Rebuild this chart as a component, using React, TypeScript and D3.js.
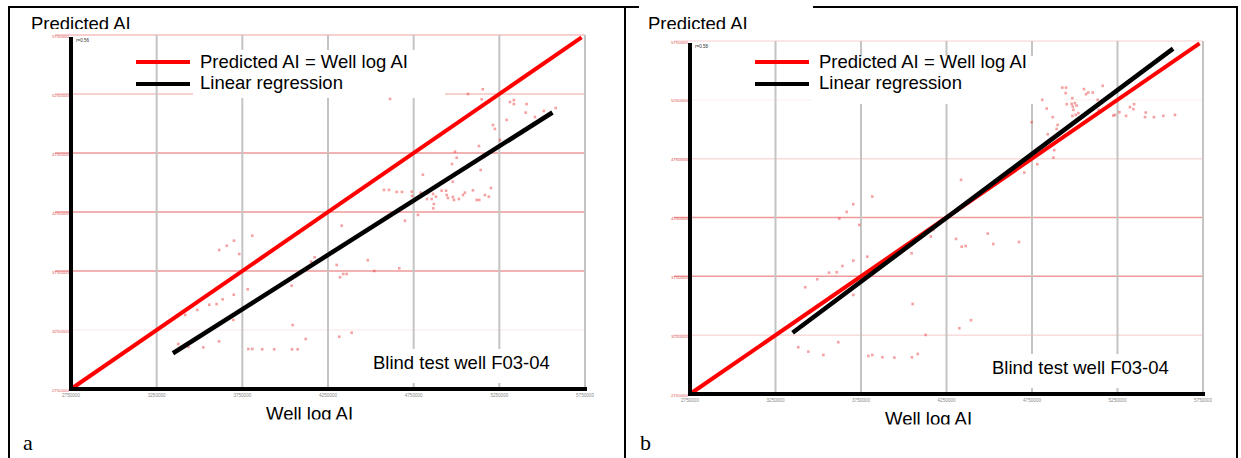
import React from 'react';
import * as d3 from 'd3';

// AI values in thousands (tick labels are printed x1000)
const AI_TICKS = [2750, 3250, 3750, 4250, 4750, 5250, 5750];
const IDENTITY = [2750, 5730];

// panel a: blind test well, first network
const WELL_A = [5153,5067,5147,4612,5312,5335,5335,5409,5404,5458,5510,5579,5293,5213,5224,5254,5131,4991,5001,4974,5141,4804,4978,4577,4606,4651,4682,4738,4740,4791,4833,4863,4913,4939,4943,4950,4855,4880,4868,4864,4979,4985,5014,5049,5038,5096,5118,5133,5166,5201,5189,4828,4699,4775,4330,3808,3701,3659,3615,3732,3781,3700,3635,3600,3557,3487,3417,3697,3376,3435,3522,3614,3785,3808,3866,3936,4040,4073,4038,4044,4120,4172,4151,4301,4482,4520,4666,4339,4359,4320,4316,4388];
const PRED_A = [5290,5250,5205,5208,5182,5199,5165,5165,5092,5055,5106,5131,5030,4987,4954,4860,4809,4761,4710,4657,4606,4566,4507,4437,4437,4420,4420,4422,4386,4414,4409,4403,4431,4431,4394,4369,4360,4380,4318,4281,4377,4352,4360,4414,4394,4434,4352,4352,4394,4453,4380,4360,4176,4225,4134,4049,4007,3964,3928,3894,3595,3549,3510,3470,3464,3420,3377,3335,3131,3108,3103,3154,3089,3089,3086,3086,3086,3086,3625,3292,3174,3866,3829,3801,3841,3750,3773,3725,3725,3697,3193,3227];
const REG_A = { x0: 3345, x1: 5560, slope: 0.921, offset: -245 };

// panel b: blind test well, second network
const WELL_B = [3816,3705,3666,3623,3740,3787,3705,3641,3608,3563,3494,3424,3705,3383,3442,3530,3617,3793,3816,3875,3945,4048,4082,4046,4052,4128,4158,4173,4306,4339,4362,4491,4524,4674,4325,4393,4335,4705,4781,4875,4880,4842,4894,4900,4871,4836,4810,4748,4927,4949,4947,5054,5066,5079,5105,5163,4986,5001,4988,4953,4982,5011,4992,5021,4986,5006,5134,5140,5225,5235,5261,5300,5323,5347,5343,5415,5411,5463,5518,5586];
const PRED_B = [4428,4363,4298,4241,4187,3917,3883,3838,3785,3781,3725,3657,3592,3147,3110,3082,3190,3073,3082,3062,3059,3062,3090,3946,3515,3252,4088,4144,4068,4002,4008,4113,4025,4042,3309,3377,4570,4632,4703,4759,4822,4958,5003,5037,5103,5176,5250,5060,5354,5354,5307,5341,5298,5312,5312,5369,5264,5222,5193,5213,5216,5201,5165,5137,5114,5122,5250,5165,5116,5122,5145,5114,5188,5213,5171,5142,5103,5103,5114,5122];
const REG_B = { x0: 3350, x1: 5575, slope: 1.085, offset: -130 };

const LEGEND = ['Predicted AI = Well log AI', 'Linear regression'];
const WELL_NAME = 'Blind test well F03-04';

const font = 'Liberation Sans, Arial, sans-serif';
const gridRed = 'rgba(226,70,70,0.55)';

type PanelProps = {
  left: number; right: number; top: number; bottom: number;
  wellLog: number[]; predicted: number[];
  reg: { x0: number; x1: number; slope: number; offset: number };
  hOpacity: number[];
  tag: string; stat: string;
  panelLeft: number;
};

function Panel(p: PanelProps) {
  const x = d3.scaleLinear().domain([AI_TICKS[0], AI_TICKS[AI_TICKS.length - 1]]).range([p.left, p.right]);
  const y = d3.scaleLinear().domain([AI_TICKS[0], AI_TICKS[AI_TICKS.length - 1]]).range([p.bottom, p.top]);
  const line = d3.line<[number, number]>().x(d => x(d[0])).y(d => y(d[1]));
  const regY = (v: number) => AI_TICKS[0] + p.reg.offset + p.reg.slope * (v - AI_TICKS[0]);
  const lgX = p.left + 65;
  const fmt = (d: number) => `${d * 1000}`;

  return (
    <g>
      {/* titles, partly cut off like the original scan */}
      <text x={p.panelLeft + 23} y={29.5} fontFamily={font} fontSize={18.5}>Predicted AI</text>
      <rect x={p.panelLeft + 15} y={29} width={140} height={5} fill="#fff" />

      {/* horizontal red grid */}
      {AI_TICKS.slice(1).map((t, i) => (
        <line key={'h' + t} x1={p.left - 16} x2={p.right} y1={y(t)} y2={y(t)}
          stroke={gridRed} strokeWidth={1.5} opacity={p.hOpacity[i]} />
      ))}
      {/* vertical grey grid */}
      {AI_TICKS.slice(1).map(t => (
        <line key={'v' + t} x1={x(t)} x2={x(t)} y1={p.top} y2={p.bottom}
          stroke="#c4c4c4" strokeWidth={2} />
      ))}

      {/* tick labels (tiny, as in the source image) */}
      {AI_TICKS.map(t => (
        <text key={'yl' + t} x={p.left - 2} y={y(t) + 2.6} textAnchor="end"
          fontFamily={font} fontSize={4.4} fill="#e06060">{fmt(t)}</text>
      ))}
      {AI_TICKS.map(t => (
        <text key={'xl' + t} x={x(t)} y={p.bottom + 8} textAnchor="middle"
          fontFamily={font} fontSize={4.6} fill="#888">{fmt(t)}</text>
      ))}
      <text x={p.left + 5} y={p.top + 7} fontFamily={font} fontSize={4.6} fill="#333">{p.stat}</text>

      {/* legend box */}
      <rect x={p.left + 122} y={p.top + 15} width={252} height={48} fill="#fff" />
      <line x1={lgX} x2={lgX + 54} y1={62} y2={62} stroke="#ff0000" strokeWidth={4} />
      <line x1={lgX} x2={lgX + 54} y1={84} y2={84} stroke="#000" strokeWidth={4} />
      <text x={lgX + 64} y={68} fontFamily={font} fontSize={18.5}>{LEGEND[0]}</text>
      <text x={lgX + 64} y={89} fontFamily={font} fontSize={18.5}>{LEGEND[1]}</text>

      {/* scatter */}
      {p.wellLog.map((v, i) => (
        <rect key={'p' + i} x={x(v) - 1.3} y={y(p.predicted[i]) - 1.3} width={2.6} height={2.6}
          fill="#e44" opacity={0.5} />
      ))}

      {/* well label */}
      <rect x={p.left + 299} y={p.bottom - 40} width={184} height={34} fill="#fff" />
      <text x={p.left + 302} y={p.bottom - 20} fontFamily={font} fontSize={18.5}>{WELL_NAME}</text>

      {/* identity and regression */}
      <path d={line([[IDENTITY[0], IDENTITY[0]], [IDENTITY[1], IDENTITY[1]]]) || ''}
        stroke="#ff0000" strokeWidth={4} fill="none" />
      <path d={line([[p.reg.x0, regY(p.reg.x0)], [p.reg.x1, regY(p.reg.x1)]]) || ''}
        stroke="#000" strokeWidth={4.5} fill="none" />

      {/* axes */}
      <line x1={p.left} x2={p.left} y1={p.top + 2} y2={p.bottom + 2} stroke="#000" strokeWidth={4} />
      <line x1={p.left - 2} x2={p.right + 2} y1={p.bottom} y2={p.bottom} stroke="#000" strokeWidth={4} />

      <text x={p.left + 195} y={p.bottom + 31} fontFamily={font} fontSize={18.5}>Well log AI</text>
      <rect x={p.left + 180} y={p.bottom + 30.5} width={120} height={6} fill="#fff" />

      <text x={p.panelLeft + 15} y={450} fontFamily="Liberation Serif, Times New Roman, serif" fontSize={22}>{p.tag}</text>
    </g>
  );
}

export default function App() {
  return (
    <div style={{ position: 'absolute', left: 0, top: 0 }}>
      <style>{'body{margin:0}'}</style>
      <svg width={1241} height={458} style={{ display: 'block', background: '#fff' }}>
        {/* table borders */}
        <line x1={8} x2={639} y1={7} y2={7} stroke="#000" strokeWidth={2} />
        <line x1={813} x2={1237} y1={7} y2={7} stroke="#000" strokeWidth={2} />
        <line x1={9} x2={9} y1={6} y2={458} stroke="#000" strokeWidth={2} />
        <line x1={625} x2={625} y1={6} y2={458} stroke="#000" strokeWidth={2} />
        <line x1={1237} x2={1237} y1={6} y2={458} stroke="#000" strokeWidth={2} />

        <Panel left={71} right={585} top={35} bottom={389}
          wellLog={WELL_A} predicted={PRED_A} reg={REG_A}
          hOpacity={[0.15, 1, 1, 1, 0.6, 0.6]} tag="a" stat="r=0.56" panelLeft={8} />
        <Panel left={690} right={1203} top={41} bottom={394}
          wellLog={WELL_B} predicted={PRED_B} reg={REG_B}
          hOpacity={[0.35, 1, 1, 0.35, 0.1, 0.3]} tag="b" stat="r=0.58" panelLeft={625} />
      </svg>
    </div>
  );
}
